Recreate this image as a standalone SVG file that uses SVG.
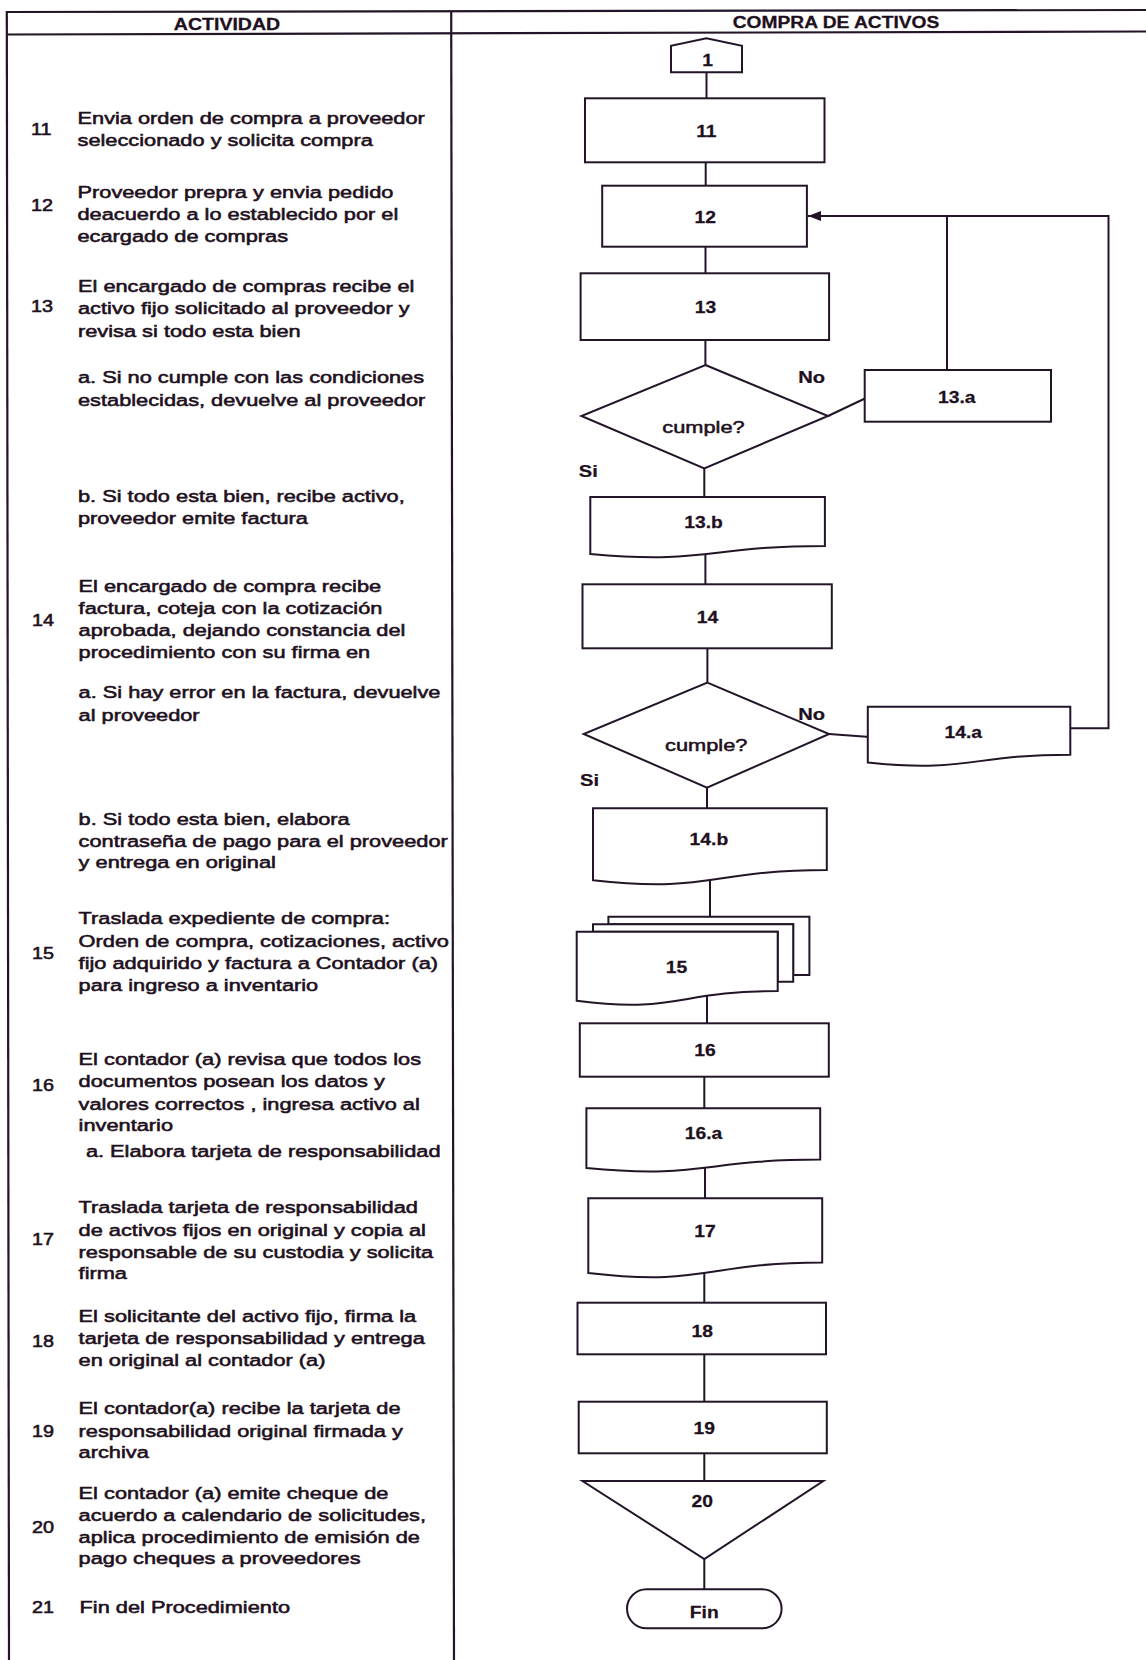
<svg xmlns="http://www.w3.org/2000/svg" width="1146" height="1660" viewBox="0 0 1146 1660">
  <style>
    .frame { fill: none; stroke: #231428; stroke-width: 2.2; }
    .shape { fill: #ffffff; stroke: #231428; stroke-width: 2; stroke-linejoin: miter; }
    .conn { fill: none; stroke: #231428; stroke-width: 2; }
    .hdr { font-family: "Liberation Sans", Arial, sans-serif; font-weight: bold; font-size: 17px; fill: #1e1020; stroke: #1e1020; stroke-width: 0.3px; text-anchor: middle; }
    .body { font-family: "Liberation Sans", Arial, sans-serif; font-size: 16.5px; fill: #1e1020; stroke: #1e1020; stroke-width: 0.55px; }
    .lbl { font-family: "Liberation Sans", Arial, sans-serif; font-weight: bold; font-size: 16.5px; fill: #1e1020; stroke: #1e1020; stroke-width: 0.25px; text-anchor: middle; }
    .q { font-family: "Liberation Sans", Arial, sans-serif; font-size: 16.5px; fill: #1e1020; stroke: #1e1020; stroke-width: 0.5px; text-anchor: middle; }
  </style>
  <defs>
    <marker id="arrow" markerUnits="userSpaceOnUse" markerWidth="13" markerHeight="10" refX="13" refY="5" orient="auto">
      <path d="M0,0 L13,5 L0,10 Z" fill="#231428"/>
    </marker>
  </defs>

  <rect width="1146" height="1660" fill="#ffffff"/>

  <!-- table frame -->
  <g id="table">
    <line class="frame" x1="6.5" y1="12" x2="1146" y2="10"/>
    <line class="frame" x1="6.5" y1="34.5" x2="1146" y2="31.5"/>
    <line class="frame" x1="6.8" y1="11" x2="9" y2="1660"/>
    <line class="frame" x1="451.2" y1="11" x2="454" y2="1660"/>
    <text class="hdr" transform="translate(227 29.5) scale(1.15 1)" x="0" y="0">ACTIVIDAD</text>
    <text class="hdr" transform="translate(836 27.5) scale(1.13 1)" x="0" y="0">COMPRA DE ACTIVOS</text>
  </g>

  <!-- activity descriptions -->
  <g id="actividades">
    <g id="act-11">
      <text class="body" transform="translate(31 0) scale(1.2 1)"><tspan x="0" y="135.3">11</tspan></text>
      <text class="body" transform="translate(77.5 0) scale(1.32 1)"><tspan x="0" y="124">Envia orden de compra a proveedor</tspan><tspan x="0" y="145.7">seleccionado y solicita compra</tspan></text>
    </g>
    <g id="act-12">
      <text class="body" transform="translate(31 0) scale(1.2 1)"><tspan x="0" y="210.7">12</tspan></text>
      <text class="body" transform="translate(77.5 0) scale(1.32 1)"><tspan x="0" y="198">Proveedor prepra y envia pedido</tspan><tspan x="0" y="220">deacuerdo a lo establecido por el</tspan><tspan x="0" y="241.7">ecargado de compras</tspan></text>
    </g>
    <g id="act-13">
      <text class="body" transform="translate(31 0) scale(1.2 1)"><tspan x="0" y="312.3">13</tspan></text>
      <text class="body" transform="translate(78 0) scale(1.32 1)"><tspan x="0" y="291.7">El encargado de compras recibe el</tspan><tspan x="0" y="314.5">activo fijo solicitado al proveedor y</tspan><tspan x="0" y="337.2">revisa si todo esta bien</tspan><tspan x="0" y="383.3">a. Si no cumple con las condiciones</tspan><tspan x="0" y="406">establecidas, devuelve al proveedor</tspan><tspan x="0" y="502.3">b. Si todo esta bien, recibe activo,</tspan><tspan x="0" y="524.3">proveedor emite factura</tspan></text>
    </g>
    <g id="act-14">
      <text class="body" transform="translate(32 0) scale(1.2 1)"><tspan x="0" y="625.7">14</tspan></text>
      <text class="body" transform="translate(78.6 0) scale(1.32 1)"><tspan x="0" y="591.7">El encargado de compra recibe</tspan><tspan x="0" y="614">factura, coteja con la cotización</tspan><tspan x="0" y="636">aprobada, dejando constancia del</tspan><tspan x="0" y="658.3">procedimiento con su firma en</tspan><tspan x="0" y="698.3">a. Si hay error en la factura, devuelve</tspan><tspan x="0" y="721">al proveedor</tspan><tspan x="0" y="825">b. Si todo esta bien, elabora</tspan><tspan x="0" y="846.7">contraseña de pago para el proveedor</tspan><tspan x="0" y="868.3">y entrega en original</tspan></text>
    </g>
    <g id="act-15">
      <text class="body" transform="translate(32 0) scale(1.2 1)"><tspan x="0" y="959">15</tspan></text>
      <text class="body" transform="translate(78.6 0) scale(1.32 1)"><tspan x="0" y="924.3">Traslada expediente  de compra:</tspan><tspan x="0" y="946.7">Orden de compra, cotizaciones, activo</tspan><tspan x="0" y="969">fijo adquirido y factura a Contador (a)</tspan><tspan x="0" y="991">para ingreso a inventario</tspan></text>
    </g>
    <g id="act-16">
      <text class="body" transform="translate(32 0) scale(1.2 1)"><tspan x="0" y="1091">16</tspan></text>
      <text class="body" transform="translate(78.6 0) scale(1.32 1)"><tspan x="0" y="1065">El contador (a) revisa que todos los</tspan><tspan x="0" y="1087.3">documentos posean los datos y</tspan><tspan x="0" y="1110">valores correctos , ingresa activo al</tspan><tspan x="0" y="1131">inventario</tspan></text>
      <text class="body" transform="translate(85.9 0) scale(1.32 1)"><tspan x="0" y="1156.7">a. Elabora tarjeta de responsabilidad</tspan></text>
    </g>
    <g id="act-17">
      <text class="body" transform="translate(32 0) scale(1.2 1)"><tspan x="0" y="1245">17</tspan></text>
      <text class="body" transform="translate(78.6 0) scale(1.32 1)"><tspan x="0" y="1213.3">Traslada tarjeta de responsabilidad</tspan><tspan x="0" y="1236">de activos fijos en original y copia al</tspan><tspan x="0" y="1257.7">responsable de su custodia y solicita</tspan><tspan x="0" y="1279">firma</tspan></text>
    </g>
    <g id="act-18">
      <text class="body" transform="translate(32 0) scale(1.2 1)"><tspan x="0" y="1346.7">18</tspan></text>
      <text class="body" transform="translate(78.6 0) scale(1.32 1)"><tspan x="0" y="1321.7">El solicitante del activo fijo, firma la</tspan><tspan x="0" y="1344">tarjeta de responsabilidad y entrega</tspan><tspan x="0" y="1365.7">en original al contador (a)</tspan></text>
    </g>
    <g id="act-19">
      <text class="body" transform="translate(32 0) scale(1.2 1)"><tspan x="0" y="1436.7">19</tspan></text>
      <text class="body" transform="translate(78.6 0) scale(1.32 1)"><tspan x="0" y="1414.5">El contador(a) recibe la tarjeta de</tspan><tspan x="0" y="1436.7">responsabilidad original firmada y</tspan><tspan x="0" y="1458.3">archiva</tspan></text>
    </g>
    <g id="act-20">
      <text class="body" transform="translate(32 0) scale(1.2 1)"><tspan x="0" y="1533.3">20</tspan></text>
      <text class="body" transform="translate(78.6 0) scale(1.32 1)"><tspan x="0" y="1499.3">El contador (a) emite cheque de</tspan><tspan x="0" y="1521">acuerdo  a calendario de solicitudes,</tspan><tspan x="0" y="1542.7">aplica procedimiento de emisión de</tspan><tspan x="0" y="1564">pago cheques a proveedores</tspan></text>
    </g>
    <g id="act-21">
      <text class="body" transform="translate(32 0) scale(1.2 1)"><tspan x="0" y="1613.3">21</tspan></text>
      <text class="body" transform="translate(79.5 0) scale(1.32 1)"><tspan x="0" y="1613.3">Fin del Procedimiento</tspan></text>
    </g>
  </g>

  <!-- flow connectors -->
  <g id="connectors">
    <line class="conn" x1="706.5" y1="70" x2="706.5" y2="100"/>
    <line class="conn" x1="705.7" y1="160" x2="705.7" y2="188"/>
    <line class="conn" x1="705.5" y1="245" x2="705.5" y2="275"/>
    <line class="conn" x1="705.4" y1="338" x2="705.4" y2="367"/>
    <line class="conn" x1="828" y1="416" x2="866" y2="398"/>
    <line class="conn" x1="947" y1="372" x2="947" y2="216"/>
    <line class="conn" x1="704.3" y1="466" x2="704.3" y2="499"/>
    <line class="conn" x1="705.4" y1="550" x2="705.4" y2="586"/>
    <line class="conn" x1="707.4" y1="646" x2="707.4" y2="685"/>
    <line class="conn" x1="829" y1="734" x2="870" y2="737"/>
    <polyline class="conn" points="1068,728.3 1108.5,728.3 1108.5,216 808,216" marker-end="url(#arrow)"/>
    <line class="conn" x1="707" y1="786" x2="707" y2="810"/>
    <line class="conn" x1="710" y1="875" x2="710" y2="919"/>
    <line class="conn" x1="707" y1="995" x2="707" y2="1025"/>
    <line class="conn" x1="704.3" y1="1075" x2="704.3" y2="1110"/>
    <line class="conn" x1="705" y1="1160" x2="705" y2="1200"/>
    <line class="conn" x1="704.3" y1="1265" x2="704.3" y2="1305"/>
    <line class="conn" x1="704.3" y1="1352" x2="704.3" y2="1404"/>
    <line class="conn" x1="704.3" y1="1451" x2="704.3" y2="1483"/>
    <line class="conn" x1="704.3" y1="1555" x2="704.3" y2="1591"/>
    <text class="lbl" transform="translate(811.7 382.5) scale(1.22 1)" x="0" y="0">No</text>
    <text class="lbl" transform="translate(588.3 477) scale(1.22 1)" x="0" y="0">Si</text>
    <text class="lbl" transform="translate(811.7 720) scale(1.22 1)" x="0" y="0">No</text>
    <text class="lbl" transform="translate(589.5 786) scale(1.22 1)" x="0" y="0">Si</text>
  </g>

  <!-- flow nodes -->
  <g id="n1">
    <path class="shape" d="M671,72.3 V45.7 L706.4,38.3 L742,45.7 V72.3 Z"/>
    <text class="lbl" transform="translate(707.5 66) scale(1.17 1)" x="0" y="0">1</text>
  </g>
  <g id="n11">
    <rect class="shape" x="585" y="98.3" width="239.5" height="64"/>
    <text class="lbl" transform="translate(706.4 137) scale(1.17 1)" x="0" y="0">11</text>
  </g>
  <g id="n12">
    <rect class="shape" x="602.2" y="185.7" width="204.7" height="61"/>
    <text class="lbl" transform="translate(705.3 222.7) scale(1.17 1)" x="0" y="0">12</text>
  </g>
  <g id="n13">
    <rect class="shape" x="580.6" y="273.3" width="248.5" height="66.7"/>
    <text class="lbl" transform="translate(705.4 313.3) scale(1.17 1)" x="0" y="0">13</text>
  </g>
  <g id="d13">
    <path class="shape" d="M705.4,365 L828,416 L704.3,468.3 L581.4,416 Z"/>
    <text class="q" transform="translate(703.5 432.5) scale(1.32 1)" x="0" y="0">cumple?</text>
  </g>
  <g id="n13a">
    <rect class="shape" x="864.7" y="370" width="186.3" height="51.7"/>
    <text class="lbl" transform="translate(956.7 402.7) scale(1.17 1)" x="0" y="0">13.a</text>
  </g>
  <g id="n13b">
    <path class="shape" d="M590.3,497 H824.9 V545.9 C707.6,545.9 707.6,564.6 590.3,554 Z"/>
    <text class="lbl" transform="translate(703.5 527.7) scale(1.17 1)" x="0" y="0">13.b</text>
  </g>
  <g id="n14">
    <rect class="shape" x="582.5" y="584.3" width="249.3" height="64"/>
    <text class="lbl" transform="translate(707.4 623.3) scale(1.17 1)" x="0" y="0">14</text>
  </g>
  <g id="d14">
    <path class="shape" d="M707.4,682.7 L829.1,734 L707,787.7 L583.7,734 Z"/>
    <text class="q" transform="translate(706.2 751) scale(1.32 1)" x="0" y="0">cumple?</text>
  </g>
  <g id="n14a">
    <path class="shape" d="M867.8,706.7 H1070.3 V754.7 C969,754.7 969,773 867.8,762.6 Z"/>
    <text class="lbl" transform="translate(963.3 737.7) scale(1.17 1)" x="0" y="0">14.a</text>
  </g>
  <g id="n14b">
    <path class="shape" d="M593,808.3 H826.8 V870 C709.9,870 709.9,893.6 593,880.2 Z"/>
    <text class="lbl" transform="translate(708.9 845.3) scale(1.17 1)" x="0" y="0">14.b</text>
  </g>
  <g id="n15">
    <path class="shape" d="M608.4,924.3 V916.7 H809.4 V975 H793.2 V924.3 Z"/>
    <path class="shape" d="M593,931.7 V924.3 H793.2 V981.7 H777.7 V931.7 Z"/>
    <path class="shape" d="M576.7,931.7 H777.7 V991 C677.2,991 677.2,1013.7 576.7,1000.8 Z"/>
    <text class="lbl" transform="translate(676.5 972.7) scale(1.17 1)" x="0" y="0">15</text>
  </g>
  <g id="n16">
    <rect class="shape" x="579.8" y="1023.3" width="249" height="53.4"/>
    <text class="lbl" transform="translate(705 1056) scale(1.17 1)" x="0" y="0">16</text>
  </g>
  <g id="n16a">
    <path class="shape" d="M586.4,1108.3 H820.2 V1159.6 C703.3,1159.6 703.3,1179.2 586.4,1168.1 Z"/>
    <text class="lbl" transform="translate(703.5 1139.3) scale(1.17 1)" x="0" y="0">16.a</text>
  </g>
  <g id="n17">
    <path class="shape" d="M588.3,1198.3 H822.2 V1262.5 C705.2,1262.5 705.2,1286.9 588.3,1273 Z"/>
    <text class="lbl" transform="translate(705 1236.7) scale(1.17 1)" x="0" y="0">17</text>
  </g>
  <g id="n18">
    <rect class="shape" x="577.5" y="1302.7" width="248.5" height="51.6"/>
    <text class="lbl" transform="translate(702.3 1336.7) scale(1.17 1)" x="0" y="0">18</text>
  </g>
  <g id="n19">
    <rect class="shape" x="578.7" y="1401.7" width="248.1" height="51.6"/>
    <text class="lbl" transform="translate(704.3 1434.3) scale(1.17 1)" x="0" y="0">19</text>
  </g>
  <g id="n20">
    <path class="shape" d="M582.5,1481 H823.3 L704.3,1559 Z"/>
    <text class="lbl" transform="translate(702.3 1506.7) scale(1.17 1)" x="0" y="0">20</text>
  </g>
  <g id="fin">
    <rect class="shape" x="627" y="1589.3" width="154.6" height="39" rx="19.5" ry="19.5"/>
    <text class="lbl" transform="translate(704.3 1617.7) scale(1.17 1)" x="0" y="0">Fin</text>
  </g>
</svg>
